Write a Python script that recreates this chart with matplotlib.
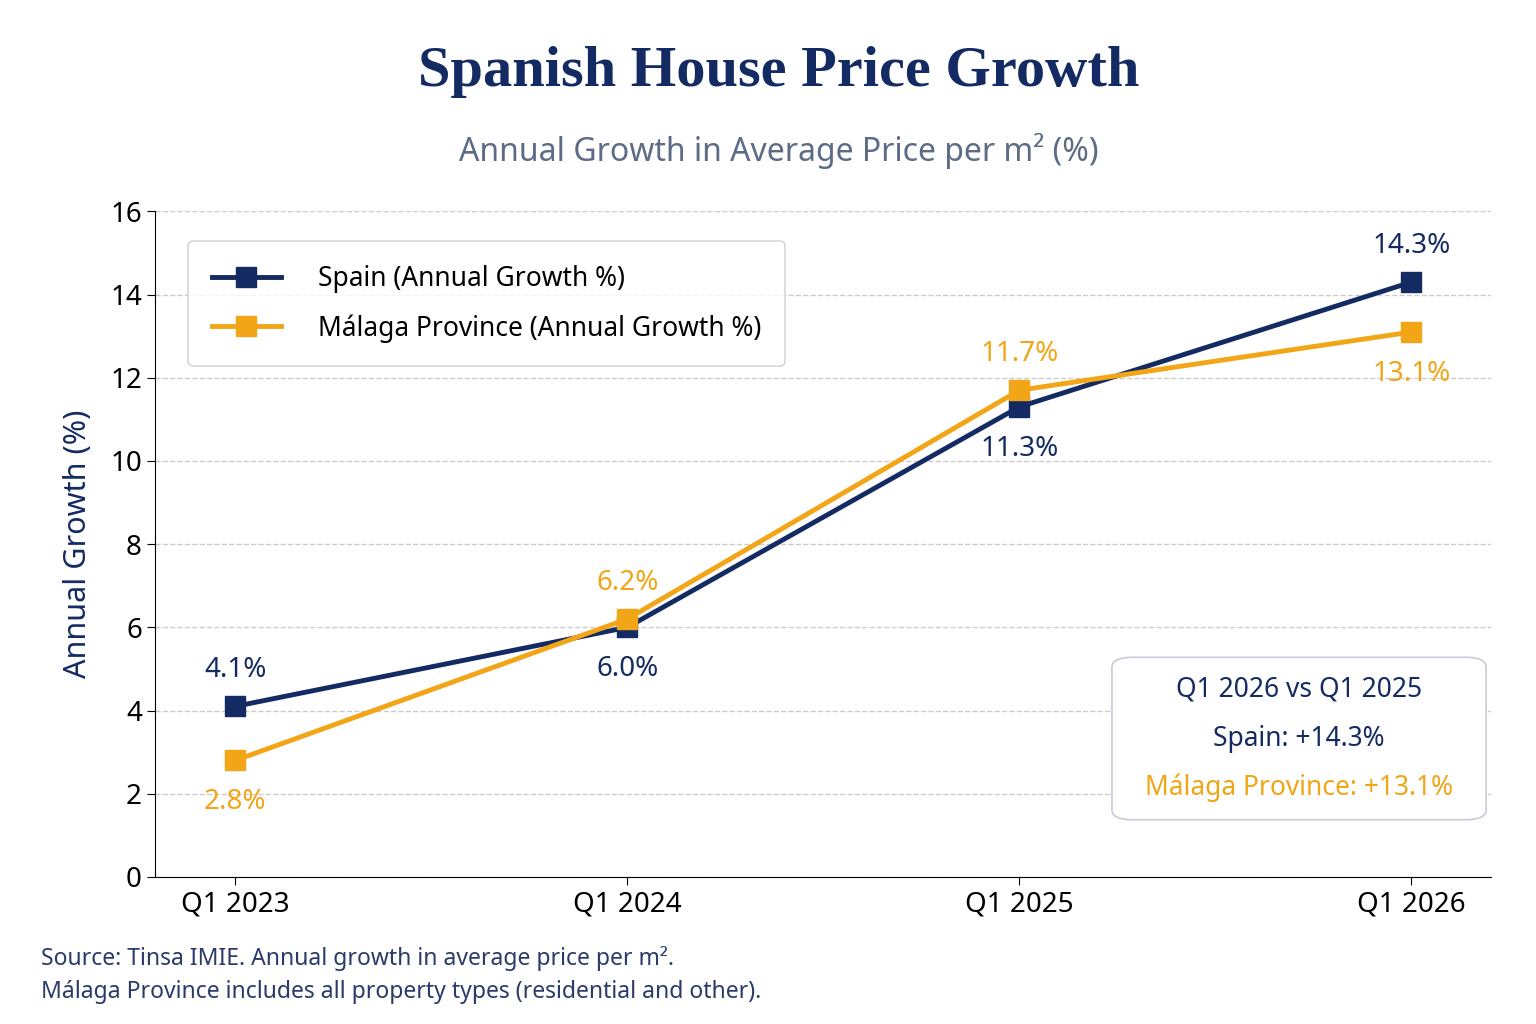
import matplotlib
matplotlib.use('Agg')
import matplotlib.pyplot as plt
from matplotlib.patches import FancyBboxPatch

plt.rcParams['font.family'] = ['Noto Sans', 'DejaVu Sans']

quarters = ['Q1 2023', 'Q1 2024', 'Q1 2025', 'Q1 2026']
spain = [4.1, 6.0, 11.3, 14.3]
malaga = [2.8, 6.2, 11.7, 13.1]

navy = '#132a63'
gold = '#f2a516'

fig = plt.figure(figsize=(15.36, 10.24), dpi=100)
ax = fig.add_axes([0.101, 0.1436, 0.870, 0.650])
x = list(range(len(quarters)))

ax.plot(x, spain, color=navy, lw=3.5, marker='s', ms=15, label='Spain (Annual Growth %)', zorder=3)
ax.plot(x, malaga, color=gold, lw=3.5, marker='s', ms=15, label='Málaga Province (Annual Growth %)', zorder=4)

# value labels: above/below depending on which line is on top
for i, (s, m) in enumerate(zip(spain, malaga)):
    if s > m:
        s_off, m_off = 26, -30
    else:
        s_off, m_off = -30, 26
    ax.annotate(f'{s:.1f}%', (i, s), xytext=(0, s_off), textcoords='offset points',
                ha='center', va='center', fontsize=20, color=navy)
    ax.annotate(f'{m:.1f}%', (i, m), xytext=(0, m_off), textcoords='offset points',
                ha='center', va='center', fontsize=20, color=gold)

ax.set_xlim(-0.204, 3.204)
ax.set_ylim(0, 16)
ax.set_yticks(range(0, 17, 2))
ax.set_xticks(x)
ax.set_xticklabels(quarters)
ax.tick_params(labelsize=20, length=6)
ax.grid(axis='y', ls='--', color='#cccccc', lw=1)
ax.spines['top'].set_visible(False)
ax.spines['right'].set_visible(False)
ax.set_ylabel('Annual Growth (%)', fontsize=22, color=navy, labelpad=12)

leg = ax.legend(loc='upper left', bbox_to_anchor=(0.015, 0.975), fontsize=19, frameon=True,
                borderpad=0.9, labelspacing=0.8, handlelength=2.6, handletextpad=1.4)
leg.get_frame().set_edgecolor('#cccccc')
leg.get_frame().set_linewidth(1.2)

# summary box
ax.add_patch(FancyBboxPatch((0.722, 0.092), 0.268, 0.232, boxstyle='round,pad=0.006,rounding_size=0.015',
                            transform=ax.transAxes, fc='white', ec='#c8ccd6', lw=1.2, zorder=5))
ax.text(0.856, 0.281, 'Q1 2026 vs Q1 2025', transform=ax.transAxes, ha='center', va='center',
        fontsize=19, color=navy, zorder=6)
ax.text(0.856, 0.207, f'Spain: +{spain[-1]:.1f}%', transform=ax.transAxes, ha='center', va='center',
        fontsize=19, color=navy, zorder=6)
ax.text(0.856, 0.134, f'Málaga Province: +{malaga[-1]:.1f}%', transform=ax.transAxes, ha='center', va='center',
        fontsize=19, color=gold, zorder=6)

fig.text(0.507, 0.93, 'Spanish House Price Growth', ha='center', va='center', fontsize=42,
         fontweight='bold', family='Liberation Serif', color=navy)
fig.text(0.507, 0.853, 'Annual Growth in Average Price per m² (%)', ha='center', va='center',
         fontsize=23, color='#5d6b86')
fig.text(0.027, 0.064, 'Source: Tinsa IMIE. Annual growth in average price per m².', fontsize=16.5, color='#2a3a6a', va='center')
fig.text(0.027, 0.031, 'Málaga Province includes all property types (residential and other).', fontsize=16.5, color='#2a3a6a', va='center')

fig.savefig('out.png', dpi=100, facecolor='white')
